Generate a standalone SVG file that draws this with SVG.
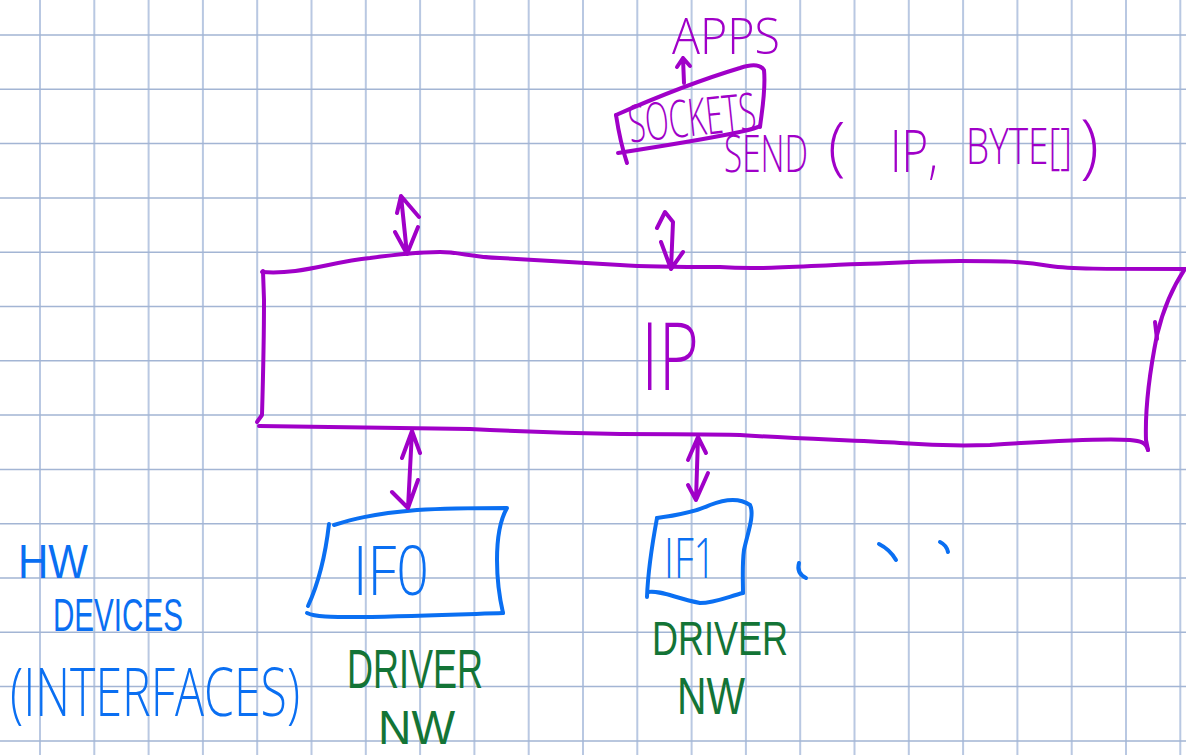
<svg xmlns="http://www.w3.org/2000/svg" width="1186" height="755" viewBox="0 0 1186 755">
  <style>
    .grid-v { stroke: #b9c8e2; stroke-width: 2; fill: none; }
    .grid-h { stroke: #a3b5d4; stroke-width: 1.5; fill: none; }
    .pen { fill: none; stroke-width: 4; stroke-linecap: round; stroke-linejoin: round; }
    .purple { stroke: #a000c8; }
    .blue { stroke: #0a6ff2; }
    .hand { font-family: "Open Sans", "Liberation Sans", sans-serif; font-weight: 300; }
    .compact { font-family: "Liberation Sans", "Open Sans", sans-serif; font-weight: 400; }
    .tp { fill: #a000c8; }
    .tb { fill: #0a6ff2; }
    .tg { fill: #137436; font-family: "Liberation Sans", "Open Sans", sans-serif; font-weight: 400; }
  </style>

  <!-- paper -->
  <rect x="0" y="0" width="1186" height="755" fill="#ffffff"/>
  <g id="grid">
    <path class="grid-v" d="M40,0V755 M94.3,0V755 M148.6,0V755 M202.9,0V755 M257.2,0V755 M311.5,0V755 M365.8,0V755 M420.1,0V755 M474.4,0V755 M528.7,0V755 M583,0V755 M637.3,0V755 M691.6,0V755 M745.9,0V755 M800.2,0V755 M854.5,0V755 M908.8,0V755 M963.1,0V755 M1017.4,0V755 M1071.7,0V755 M1126,0V755 M1180.3,0V755"/>
    <path class="grid-h" d="M0,35H1186 M0,89.3H1186 M0,143.6H1186 M0,197.9H1186 M0,252.2H1186 M0,306.5H1186 M0,360.8H1186 M0,415.1H1186 M0,469.4H1186 M0,523.7H1186 M0,578H1186 M0,632.3H1186 M0,686.6H1186 M0,740.9H1186"/>
  </g>

  <!-- application layer -->
  <g id="apps">
    <text class="hand tp" transform="translate(672,54) scale(0.9,1)" font-size="50" textLength="120" lengthAdjust="spacingAndGlyphs">APPS</text>
  </g>

  <g id="sockets">
    <path class="pen purple" d="M616,115 C650,100 700,80 740,68 C752,64 760,64 764,70 C766,90 762,110 760,127"/>
    <path class="pen purple" d="M616,115 C618,128 621,145 627,163"/>
    <path class="pen purple" d="M618,153 C650,148 700,140 730,134 C745,131 755,129 760,126"/>
    <text class="hand tp" transform="rotate(-6 692 118) translate(692,136) scale(0.58,1)" font-size="52" text-anchor="middle" textLength="220.7" lengthAdjust="spacingAndGlyphs">SOCKETS</text>
  </g>

  <g id="send-call">
    <text class="hand tp" transform="translate(724,172) scale(0.62,1)" font-size="52" textLength="135.5" lengthAdjust="spacingAndGlyphs">SEND</text>
    <text class="hand tp" x="828" y="168" font-size="64">(</text>
    <text class="hand tp" transform="translate(890,172) scale(0.73,1)" font-size="58" textLength="65.8" lengthAdjust="spacingAndGlyphs">IP,</text>
    <text class="hand tp" transform="translate(966,164) scale(0.71,1)" font-size="50" textLength="149.3" lengthAdjust="spacingAndGlyphs">BYTE[]</text>
    <text class="hand tp" x="1080" y="170" font-size="70">)</text>
  </g>

  <!-- IP layer -->
  <g id="ip">
    <path class="pen purple" d="M262,272 C300,275 330,262 370,258 C400,254 420,252 440,252 C460,252 470,257 500,258 C540,260 580,263 620,265 C650,267 690,267 720,267 C760,270 800,266 860,264 C900,263 920,261 960,261 C1000,261 1020,261 1050,266 C1070,269 1100,269 1185,269"/>
    <path class="pen purple" d="M1185,269 C1172,288 1163,310 1157,335 C1150,370 1145,410 1146,440 L1148,450"/>
    <path class="pen purple" d="M1155,322 L1157,339"/>
    <path class="pen purple" d="M1148,450 C1146,442 1140,441 1130,440 C1100,438 1050,441 990,445 C960,446 940,446 900,443 C850,440 800,439 740,435 C700,434 660,434 620,434 C560,433 530,432 470,429 L259,426"/>
    <path class="pen purple" d="M263,271 L264,300 C264,340 263,380 262,415 L257,422"/>
    <text class="hand tp" transform="translate(641,390) scale(0.7,1)" font-size="94" textLength="82.9" lengthAdjust="spacingAndGlyphs">IP</text>
  </g>

  <!-- interfaces -->
  <g id="if0">
    <path class="pen blue" d="M334,525 C350,520 370,514 417,510 C450,508 480,508 507,508 C500,520 497,535 497,560 C497,580 500,600 503,613"/>
    <path class="pen blue" d="M329,524 C326,550 320,580 308,606"/>
    <path class="pen blue" d="M307,613 C315,617 330,617 360,617 C420,616 470,614 503,613"/>
    <text class="hand tb" transform="translate(353,595) scale(0.82,1)" font-size="68" textLength="92.7" lengthAdjust="spacingAndGlyphs">IF0</text>
  </g>

  <g id="if1">
    <path class="pen blue" d="M657,518 C680,515 695,512 710,505 C725,499 740,498 750,505 C755,515 747,535 744,550 C742,565 743,580 743,593"/>
    <path class="pen blue" d="M657,518 C652,545 648,570 647,597"/>
    <path class="pen blue" d="M648,592 C660,590 675,598 700,603 C715,603 730,596 743,593"/>
    <text class="hand tb" transform="translate(664,578) scale(0.68,1)" font-size="56" textLength="76.5" lengthAdjust="spacingAndGlyphs">IF1</text>
  </g>

  <g id="more-interfaces">
    <path class="pen blue" d="M799,563 C797,570 800,575 806,578"/>
    <path class="pen blue" d="M879,544 C887,548 892,553 896,560"/>
    <path class="pen blue" d="M940,542 C944,544 947,547 948,552"/>
  </g>

  <g id="hw-devices">
    <text class="compact tb" transform="translate(18,578) scale(0.875,1)" font-size="48" textLength="80" lengthAdjust="spacingAndGlyphs">HW</text>
    <text class="compact tb" transform="translate(53,631) scale(0.64,1)" font-size="46" textLength="203" lengthAdjust="spacingAndGlyphs">DEVICES</text>
    <text class="hand tb" transform="translate(10,716) scale(0.7,1)" font-size="66" textLength="414.3" lengthAdjust="spacingAndGlyphs">(INTERFACES)</text>
  </g>

  <g id="driver-if0">
    <text class="tg" transform="translate(347,688) scale(0.64,1)" font-size="56" textLength="212.5" lengthAdjust="spacingAndGlyphs">DRIVER</text>
    <text class="tg" x="378" y="744" font-size="48" textLength="77" lengthAdjust="spacingAndGlyphs">NW</text>
  </g>

  <g id="driver-if1">
    <text class="tg" transform="translate(652,655) scale(0.75,1)" font-size="48" textLength="181.3" lengthAdjust="spacingAndGlyphs">DRIVER</text>
    <text class="tg" transform="translate(677,714) scale(0.78,1)" font-size="52" textLength="87.2" lengthAdjust="spacingAndGlyphs">NW</text>
  </g>

  <!-- connectors: hand-drawn double arrows -->
  <g id="connectors" class="pen purple">
    <!-- sockets to apps -->
    <path d="M684,83 L683,58 M677,67 L683,58 L690,66"/>
    <!-- left client to IP -->
    <path d="M401,196 L407,254 M397,213 L401,196 L419,217 M395,232 L407,254 L418,227"/>
    <!-- sockets to IP -->
    <path d="M657,228 L665,212 L673,222 L671,269 M661,242 L671,269 L683,252"/>
    <!-- IP to IF0 -->
    <path d="M412,431 L408,508 M402,458 L412,431 L420,453 M392,492 L408,508 L418,480"/>
    <!-- IP to IF1 -->
    <path d="M698,437 L696,500 M688,460 L698,437 L706,453 M688,485 L696,500 L708,473"/>
  </g>
</svg>
